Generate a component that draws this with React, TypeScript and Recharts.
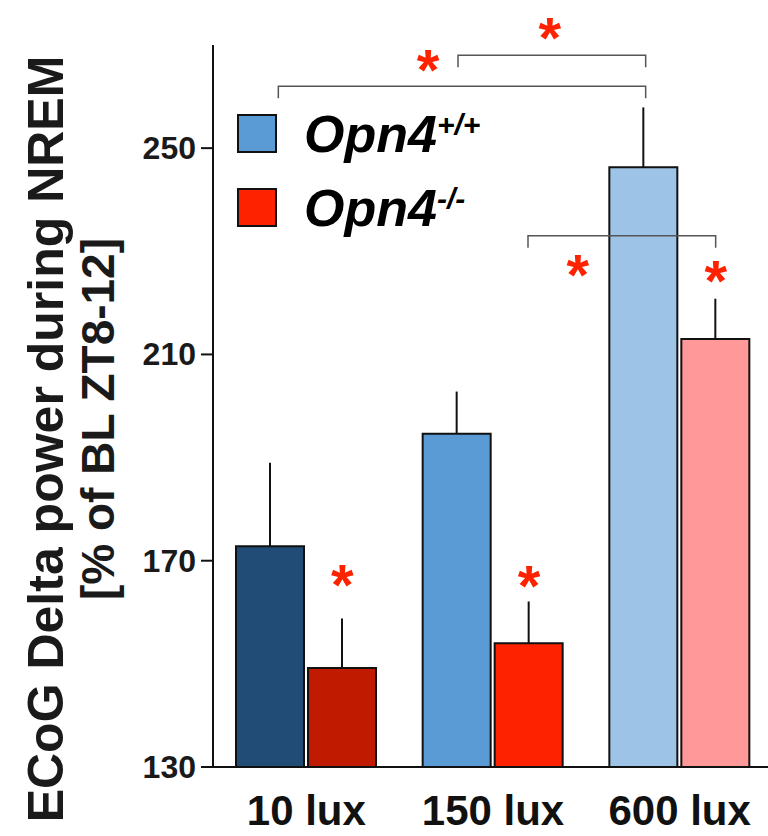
import { BarChart, Bar, XAxis, YAxis, Cell, ErrorBar, Legend, ReferenceLine, ReferenceDot } from 'recharts'

const FONT = '"Liberation Sans", Arial, Helvetica, sans-serif'

const categories = ['10 lux', '150 lux', '600 lux']
const wtMean = [172.8, 194.6, 246.3]
const wtErr = [16.2, 8.2, 11.6]
const koMean = [149.2, 154.0, 213.0]
const koErr = [9.6, 8.1, 7.8]
const wtColors = ['#214c76', '#5b9bd5', '#9dc3e6']
const koColors = ['#c01a00', '#ff2200', '#ff9999']
const yTicks = [130, 170, 210, 250]
const gene = 'Opn4'
const genotypes = ['+/+', '-/-']

// significance brackets: ends given as category + offset from the band centre
const brackets = [
  { from: '10 lux', fromDx: -28, to: '600 lux', toDx: -34, y: 262 },
  { from: '150 lux', fromDx: -35, to: '600 lux', toDx: -34, y: 268 },
  { from: '150 lux', fromDx: 35, to: '600 lux', toDx: 36, y: 233 },
]

const stars = [
  { cat: '10 lux', dx: 36, y: 166.8 },
  { cat: '150 lux', dx: 36, y: 166.6 },
  { cat: '600 lux', dx: 36, y: 225.8 },
  { cat: '600 lux', dx: -102, y: 227 },
  { cat: '150 lux', dx: -65, y: 266.7 },
  { cat: '600 lux', dx: -130, y: 272.9 },
]

const data = categories.map((lux, i) => ({
  lux,
  wt: wtMean[i],
  ko: koMean[i],
  wtErr: [0, wtErr[i]],
  koErr: [0, koErr[i]],
}))

const YTick = ({ x, y, payload }: any) => (
  <text x={x} y={y} dy={11} textAnchor="end" fontFamily={FONT} fontSize={32} fontWeight="bold" fill="#1a1a1a">
    {payload.value}
  </text>
)

const XTick = ({ x, y, payload }: any) => (
  <text x={x} y={y + 56} textAnchor="middle" fontFamily={FONT} fontSize={42} fontWeight="bold" fill="#111">
    {payload.value}
  </text>
)

const YLabel = ({ viewBox }: any) => {
  const cy = viewBox.y + viewBox.height / 2
  return (
    <g fontFamily={FONT} fontWeight="bold" fill="#1a1a1a">
      <text x={63} y={cy + 33} transform={`rotate(-90 63 ${cy + 33})`} textAnchor="middle" fontSize={50}>
        ECoG Delta power during NREM
      </text>
      <text x={114} y={cy + 13} transform={`rotate(-90 114 ${cy + 13})`} textAnchor="middle" fontSize={46}>
        [% of BL ZT8-12]
      </text>
    </g>
  )
}

const LegendContent = ({ payload }: any) => (
  <svg width={300} height={160} style={{ display: 'block' }}>
    {(payload || []).map((p: any, i: number) => (
      <g key={p.value} transform={`translate(0, ${20 + i * 74})`}>
        <rect x={1} y={1} width={38} height={37} fill={p.color} stroke="#111" strokeWidth={2} />
        <text x={67} y={38} fontFamily={FONT} fontSize={52} fontStyle="italic" fontWeight="bold" fill="#000">
          {gene}
          <tspan fontSize={30} dy={-17}>{String(p.value).slice(gene.length)}</tspan>
        </text>
      </g>
    ))}
  </svg>
)

const bracketShape = (fromDx: number, toDx: number) => (props: any) => {
  const { x1, y1, x2 } = props
  const a = x1 + fromDx
  const b = x2 + toDx
  return (
    <path d={`M${a},${y1 + 12}V${y1}H${b}V${y1 + 12}`} fill="none" stroke="#555" strokeWidth={1.5} />
  )
}

const starShape = (dx: number) => (props: any) => (
  <text x={props.cx + dx} y={props.cy + 28} textAnchor="middle" fontFamily={FONT} fontSize={58} fontWeight="bold" fill="#ff2200">
    *
  </text>
)

export default function App() {
  return (
    <div style={{ position: 'absolute', left: 0, top: 0, width: 768, height: 836, overflow: 'hidden', background: '#fff' }}>
      <BarChart
        width={774}
        height={836}
        data={data}
        margin={{ top: 45, right: 1, bottom: 0, left: 0 }}
        barSize={68}
        barGap={4}
      >
        <XAxis
          dataKey="lux"
          height={69}
          axisLine={{ stroke: '#111', strokeWidth: 2 }}
          tickLine={false}
          tickSize={0}
          tick={<XTick />}
        />
        <YAxis
          width={213}
          domain={[130, 270]}
          ticks={yTicks}
          axisLine={{ stroke: '#111', strokeWidth: 2 }}
          tickLine={{ stroke: '#111', strokeWidth: 2 }}
          tickSize={12}
          tickMargin={5}
          tick={<YTick />}
          label={{ content: YLabel }}
        />
        <Legend
          layout="horizontal"
          verticalAlign="middle"
          align="center"
          content={LegendContent}
          wrapperStyle={{ position: 'absolute', left: 237, top: 94, width: 300 }}
        />
        <Bar dataKey="wt" name={gene + genotypes[0]} fill={wtColors[1]} stroke="#111" strokeWidth={2} isAnimationActive={false}>
          {data.map((d, i) => <Cell key={d.lux} fill={wtColors[i]} />)}
          <ErrorBar dataKey="wtErr" width={0} stroke="#111" strokeWidth={2} isAnimationActive={false} />
        </Bar>
        <Bar dataKey="ko" name={gene + genotypes[1]} fill={koColors[1]} stroke="#111" strokeWidth={2} isAnimationActive={false}>
          {data.map((d, i) => <Cell key={d.lux} fill={koColors[i]} />)}
          <ErrorBar dataKey="koErr" width={0} stroke="#111" strokeWidth={2} isAnimationActive={false} />
        </Bar>
        {brackets.map((b, i) => (
          <ReferenceLine
            key={'br' + i}
            segment={[{ x: b.from, y: b.y }, { x: b.to, y: b.y }]}
            ifOverflow="visible"
            shape={bracketShape(b.fromDx, b.toDx)}
          />
        ))}
        {stars.map((s, i) => (
          <ReferenceDot key={'st' + i} x={s.cat} y={s.y} ifOverflow="visible" shape={starShape(s.dx)} />
        ))}
      </BarChart>
    </div>
  )
}
